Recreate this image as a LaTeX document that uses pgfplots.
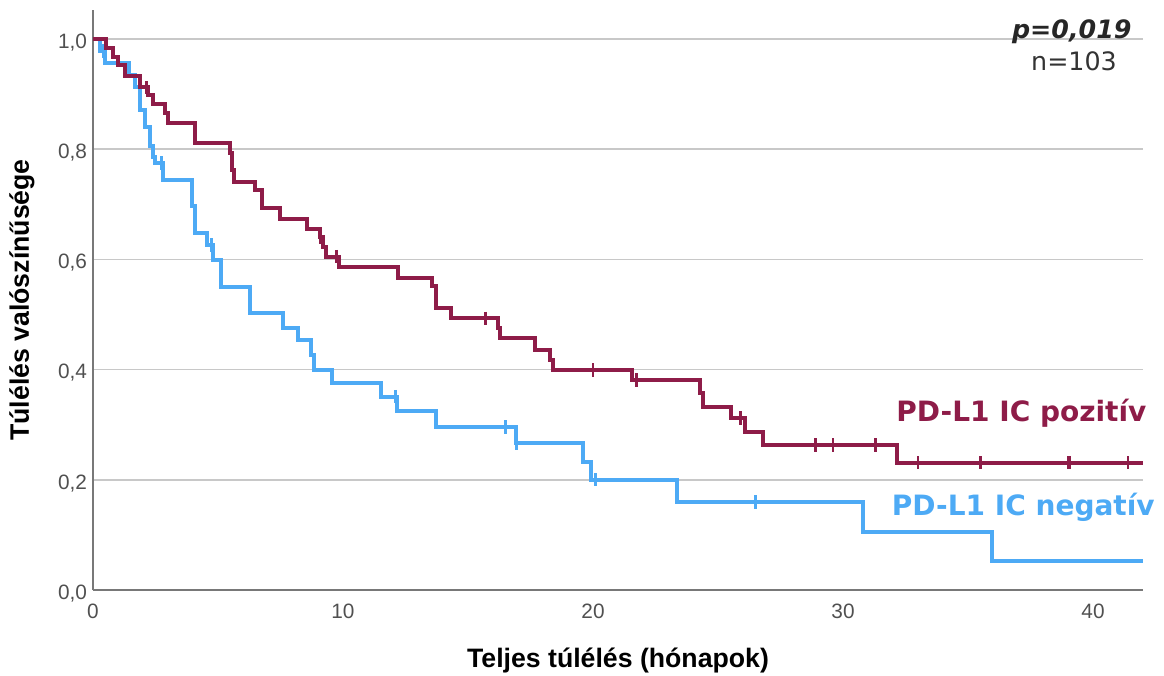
\documentclass[border=0pt]{standalone}
\usepackage{fontspec}
\setmainfont{DejaVu Sans}
\newfontfamily\libsans{Liberation Sans}
\usepackage{pgfplots}
\pgfplotsset{compat=1.18}
\definecolor{kmred}{RGB}{142,28,72}
\definecolor{kmblue}{RGB}{77,170,245}
\definecolor{gridgray}{RGB}{200,200,200}
\definecolor{axgray}{RGB}{120,120,120}
\definecolor{tickgray}{RGB}{80,80,80}
\begin{document}
\begin{tikzpicture}
\begin{axis}[name=ax, scale only axis, width=787.5pt, height=435pt,
  xmin=0, xmax=42, ymin=0, ymax=1.0526,
  axis x line*=bottom, axis y line*=left,
  axis line style={axgray, line width=1.3pt, -},
  xtick={0,10,20,30,40}, xticklabels={0,10,20,30,40},
  ytick={0,0.2,0.4,0.6,0.8,1.0},
  yticklabels={{0,0},{0,2},{0,4},{0,6},{0,8},{1,0}},
  major tick length=0pt,
  ymajorgrids, grid style={gridgray, line width=1.2pt},
  tick label style={font=\libsans\fontsize{15.6}{18}\selectfont, text=tickgray},
  xticklabel style={yshift=-7pt},
  yticklabel style={yshift=-2.5pt, xshift=-1pt},
  xlabel={Teljes túlélés (hónapok)}, ylabel={Túlélés valószínűsége},
  label style={font=\libsans\bfseries\fontsize{20}{24}\selectfont},
  xlabel style={at={(axis description cs:0.5,-0.1207)}, anchor=center},
  ylabel style={at={(axis description cs:-0.0676,0.5)}, anchor=center},
  clip=false,
]
% negative (blue)
\addplot[kmblue, line width=3pt, const plot mark left] coordinates {
(0,1.0) (0.28,0.978) (0.5,0.956) (1.45,0.934) (1.7,0.912) (1.88,0.871)
(2.08,0.841) (2.28,0.805) (2.4,0.786) (2.5,0.775) (2.81,0.744) (3.95,0.696)
(4.08,0.647) (4.55,0.626) (4.8,0.599) (5.1,0.550) (6.28,0.502) (7.6,0.476)
(8.2,0.453) (8.7,0.427) (8.82,0.399) (9.55,0.375) (11.5,0.351) (12.15,0.324)
(13.7,0.296) (16.9,0.266) (19.6,0.233) (19.9,0.200) (23.35,0.160)
(30.8,0.106) (35.95,0.053) (42,0.053)};
\addplot[only marks, mark=|, mark size=5pt, kmblue, mark options={line width=2.2pt}] coordinates {
(0.4,0.978) (2.75,0.775) (4.75,0.626) (12.1,0.351) (16.5,0.296) (16.95,0.266) (20.1,0.200) (26.5,0.160)};
% positive (red)
\addplot[kmred, line width=3pt, const plot mark left] coordinates {
(0,1.0) (0.52,0.984) (0.81,0.968) (1.0,0.952) (1.3,0.932) (1.88,0.912)
(2.2,0.898) (2.42,0.882) (2.88,0.865) (3.01,0.847) (4.08,0.811)
(5.48,0.793) (5.55,0.762) (5.62,0.741) (6.48,0.726) (6.75,0.693)
(7.48,0.673) (8.55,0.656) (9.08,0.640) (9.2,0.622) (9.3,0.605)
(9.82,0.587) (12.2,0.566) (13.55,0.551) (13.7,0.511) (14.3,0.493)
(16.2,0.475) (16.27,0.457) (17.68,0.436) (18.28,0.418) (18.4,0.399)
(21.55,0.381) (24.27,0.357) (24.4,0.333) (25.5,0.312) (26.08,0.287)
(26.81,0.263) (32.15,0.231) (42,0.231)};
\addplot[only marks, mark=|, mark size=5pt, kmred, mark options={line width=2.2pt}] coordinates {
(2.15,0.912) (9.08,0.640) (9.75,0.605) (15.7,0.493) (20.0,0.399) (21.75,0.381)
(25.9,0.312) (28.9,0.263) (29.6,0.263) (31.3,0.263) (33.0,0.231) (35.5,0.231)
(39.0,0.231) (39.08,0.231) (41.4,0.231)};
\node[anchor=base east, inner sep=0pt, text=kmred, font=\bfseries\fontsize{21}{25}\selectfont]
  at (axis cs:42.15,0.3055) {PD-L1 IC pozitív};
\node[anchor=base east, inner sep=0pt, text=kmblue, font=\bfseries\fontsize{21}{25}\selectfont]
  at (axis cs:42.48,0.136) {PD-L1 IC negatív};
\node[anchor=base, inner sep=0pt, text=black!85, font=\bfseries\itshape\fontsize{19}{23}\selectfont]
  at (axis cs:39.15,1.0013) {p=0,019};
\node[anchor=base, inner sep=0pt, text=black!80, font=\fontsize{19}{23}\selectfont]
  at (axis cs:39.24,0.942) {n=103};
\end{axis}
\pgfresetboundingbox
\path[use as bounding box] ([xshift=-69.75pt,yshift=-63.75pt]ax.south west) rectangle ([xshift=15.75pt,yshift=7.5pt]ax.north east);
\end{tikzpicture}
\end{document}
